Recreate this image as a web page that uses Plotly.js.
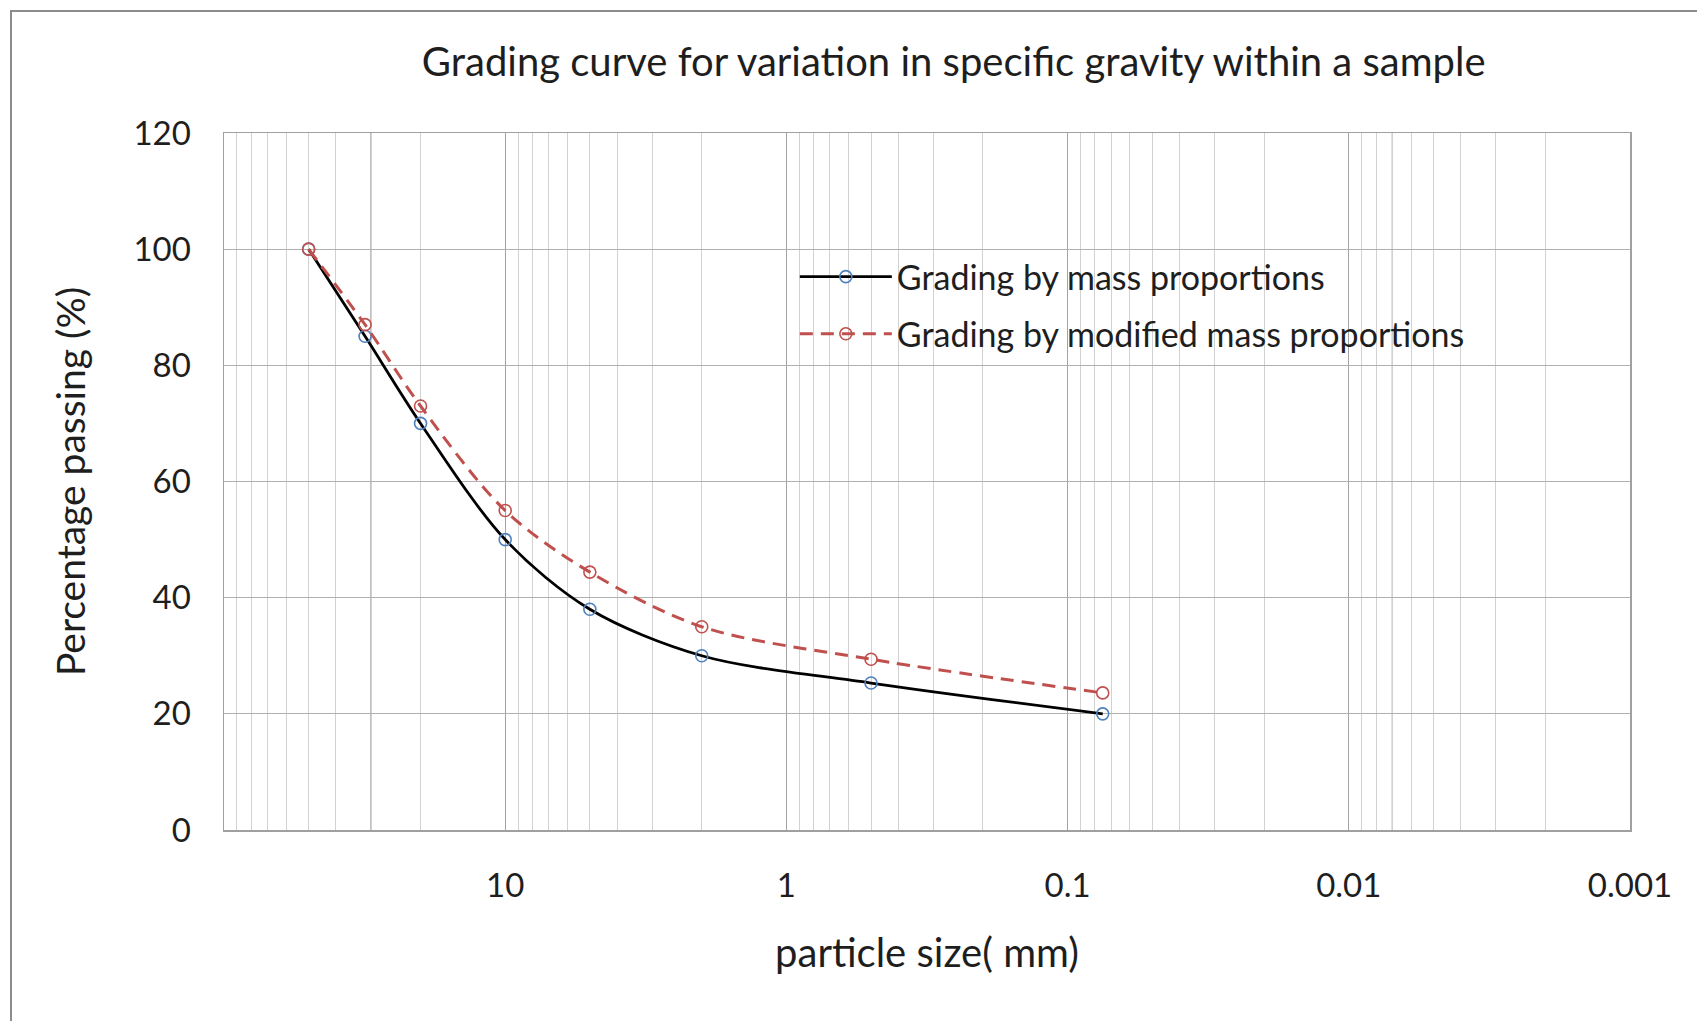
<!DOCTYPE html>
<html>
<head>
<meta charset="utf-8">
<script src="https://cdn.plot.ly/plotly-3.0.1.min.js"></script>
<style>
  html, body { margin: 0; padding: 0; background: #ffffff; }
  #chart { width: 1697px; height: 1021px; }
</style>
</head>
<body>
<div id="chart"></div>
<script>
// ---- data ----
const particleSize = [50, 31.5, 20, 10, 5, 2, 0.5, 0.075];          // mm
const passingMass = [100, 85, 70, 50, 38, 30, 25.3, 20];             // %
const passingModified = [100, 87, 73, 55, 44.4, 35, 29.4, 23.6];     // %
const xTickVals = [10, 1, 0.1, 0.01, 0.001];
const xTickText = ['10', '1', '0.1', '0.01', '0.001'];
const seriesNames = ['Grading by mass proportions', 'Grading by modified mass proportions'];
const extraDarkGrid = [30, 0.007];

const FONT = 'Lato, "Open Sans", "DejaVu Sans", sans-serif';
const TXT = '#1e1e1e';

const traces = [
  {
    x: particleSize, y: passingMass, name: seriesNames[0],
    type: 'scatter', mode: 'lines+markers', legendgroup: 'a',
    line: { color: '#000000', width: 2.8, shape: 'spline', smoothing: 0.9 },
    marker: { symbol: 'circle-open', size: 12, color: '#4F81BD', line: { width: 1.6, color: '#4F81BD' } }
  },
  {
    x: particleSize, y: passingModified, name: seriesNames[1],
    type: 'scatter', mode: 'lines+markers', legendgroup: 'b',
    line: { color: '#C0504D', width: 3, dash: '13px,8px', shape: 'spline', smoothing: 0.9 },
    marker: { symbol: 'circle-open', size: 12, color: '#C0504D', line: { width: 1.6, color: '#C0504D' } }
  }
];

const shapes = [
  // outer chart border (top and left visible)
  { type: 'rect', xref: 'paper', yref: 'paper', x0: -0.1515, x1: 1.08, y0: -0.3, y1: 1.175,
    line: { color: '#8c8c8c', width: 2 }, fillcolor: 'rgba(0,0,0,0)', layer: 'below' }
];
extraDarkGrid.forEach(v => shapes.push({
  type: 'line', xref: 'x', yref: 'paper', x0: v, x1: v, y0: 0, y1: 1,
  line: { color: '#9a9a9a', width: 1.3 }, layer: 'below'
}));

const layout = {
  width: 1697, height: 1021,
  paper_bgcolor: '#ffffff', plot_bgcolor: '#ffffff',
  margin: { l: 224, r: 67, t: 133, b: 191 },
  font: { family: FONT, color: TXT, size: 33 },
  title: {
    text: 'Grading curve for variation in specific gravity within a sample',
    font: { family: FONT, size: 40, color: TXT },
    xref: 'container', yref: 'container', x: 0.562, y: 0.939, xanchor: 'center', yanchor: 'middle'
  },
  xaxis: {
    type: 'log', range: [2, -3],
    tickmode: 'array', tickvals: xTickVals, ticktext: xTickText,
    ticks: '', ticklabelstandoff: 26,
    tickfont: { family: FONT, size: 33, color: TXT },
    showgrid: true, gridcolor: '#a3a3a3', gridwidth: 1.3,
    minor: { dtick: 'D1', showgrid: true, gridcolor: '#d2d2d2', gridwidth: 1, ticks: '' },
    showline: true, linecolor: '#a0a0a0', linewidth: 1.5, mirror: true,
    zeroline: false,
    title: { text: 'particle size( mm)', font: { family: FONT, size: 40, color: TXT }, standoff: 36 }
  },
  yaxis: {
    range: [0, 120], dtick: 20, tick0: 0,
    ticks: '', ticklabelstandoff: 25,
    tickfont: { family: FONT, size: 33, color: TXT },
    showgrid: true, gridcolor: '#b0b0b0', gridwidth: 1.3,
    showline: true, linecolor: '#a0a0a0', linewidth: 1.5, mirror: true,
    zeroline: false,
    title: { text: 'Percentage passing (%)', font: { family: FONT, size: 39, color: TXT }, standoff: 36 }
  },
  legend: {
    x: 0.406, y: 0.835, xanchor: 'left', yanchor: 'top',
    bgcolor: 'rgba(0,0,0,0)', borderwidth: 0,
    font: { family: FONT, size: 34, color: TXT },
    traceorder: 'grouped', tracegroupgap: 10, itemwidth: 92
  },
  shapes: shapes,
  showlegend: true
};

Plotly.newPlot('chart', traces, layout, { displayModeBar: false, staticPlot: true });
</script>
</body>
</html>
